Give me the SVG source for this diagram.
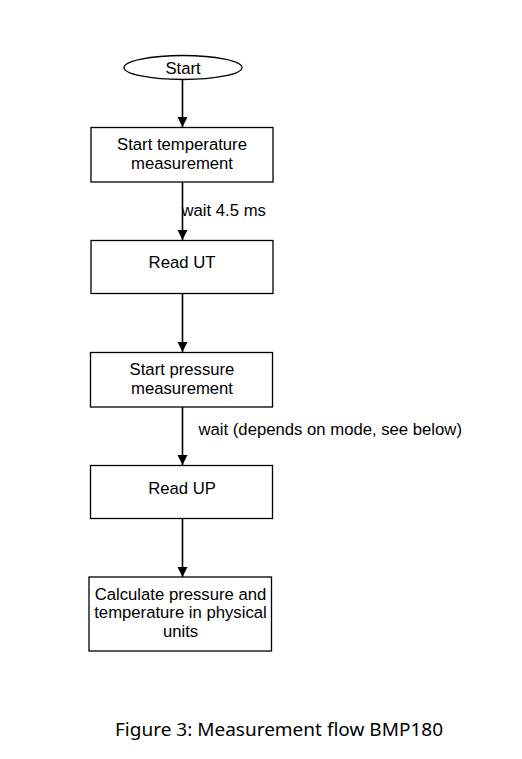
<svg xmlns="http://www.w3.org/2000/svg" width="522" height="759" viewBox="0 0 522 759">
<style>
.box{fill:#fff;stroke:#000;stroke-width:1.3}
.t{font-family:"Liberation Sans",Arial,sans-serif;font-size:16.7px;fill:#000;text-anchor:middle}
.lbl{font-family:"Liberation Sans",Arial,sans-serif;font-size:16.7px;fill:#000}
.cap{font-family:"Noto Sans","Open Sans",sans-serif;font-size:18px;fill:#000}
.c{stroke:#000;stroke-width:1.6;fill:none}
</style>
<defs>
<marker id="arr" markerUnits="userSpaceOnUse" markerWidth="12" markerHeight="12" refX="10" refY="5" orient="auto">
<path d="M0,0 L10,5 L0,10 Z" fill="#000"/>
</marker>
</defs>
<rect width="522" height="759" fill="#fff"/>
<g id="connectors">
<line class="c" x1="182.5" y1="79.5" x2="182.5" y2="127" marker-end="url(#arr)"/>
<line class="c" x1="182.5" y1="182" x2="182.5" y2="240" marker-end="url(#arr)"/>
<line class="c" x1="182.5" y1="294" x2="182.5" y2="352" marker-end="url(#arr)"/>
<line class="c" x1="182.5" y1="407" x2="182.5" y2="465" marker-end="url(#arr)"/>
<line class="c" x1="182.5" y1="518.5" x2="182.5" y2="577" marker-end="url(#arr)"/>
<text class="lbl" x="181.5" y="216">wait 4.5 ms</text>
<text class="lbl" x="198.5" y="434.5">wait (depends on mode, see below)</text>
</g>
<g id="start">
<ellipse cx="183" cy="67.5" rx="59" ry="12" fill="#fff" stroke="#000" stroke-width="1.3"/>
<text class="t" x="183" y="74">Start</text>
</g>
<g id="start-temp">
<rect class="box" x="91" y="127.5" width="182" height="54.5"/>
<text class="t" x="182" y="150">Start temperature</text>
<text class="t" x="182" y="168.5">measurement</text>
</g>
<g id="read-ut">
<rect class="box" x="91" y="240.5" width="182" height="53"/>
<text class="t" x="182" y="268">Read UT</text>
</g>
<g id="start-pressure">
<rect class="box" x="90.5" y="352.5" width="182" height="54.5"/>
<text class="t" x="182" y="375">Start pressure</text>
<text class="t" x="182" y="393.5">measurement</text>
</g>
<g id="read-up">
<rect class="box" x="90.5" y="465.5" width="182" height="53"/>
<text class="t" x="182" y="493.5">Read UP</text>
</g>
<g id="calculate">
<rect class="box" x="89" y="577" width="182.5" height="74"/>
<text class="t" x="180.5" y="599.5">Calculate pressure and</text>
<text class="t" x="180.5" y="618">temperature in physical</text>
<text class="t" x="180.5" y="636.5">units</text>
</g>
<text class="cap" x="115" y="736" textLength="328" lengthAdjust="spacingAndGlyphs">Figure 3: Measurement flow BMP180</text>
</svg>
